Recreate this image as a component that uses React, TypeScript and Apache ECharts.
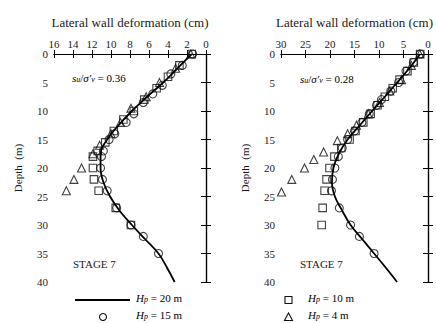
import React, { useEffect, useRef } from "react";
import * as echarts from "echarts";

const FONT = '"Liberation Serif", "Times New Roman", serif';
const INK = "#1a1a1a";

// Axis ranges (lateral deflection in cm, depth in m)
const leftMaxDefl = 16;
const leftDeflStep = 2;
const rightMaxDefl = 30;
const rightDeflStep = 5;
const maxDepth = 40;
const depthStep = 5;

// Left panel (su/σ'v = 0.36): [deflection cm, depth m]
const leftHp20: number[][] = [
  [1.5, 0], [3.0, 2.5], [4.5, 5], [6.2, 7.5], [7.8, 10], [9.2, 12.5], [10.4, 15],
  [11.1, 17.5], [11.1, 20], [10.8, 22.5], [10.1, 25], [9.1, 27.5], [7.8, 30],
  [6.4, 32.5], [5.0, 35], [4.1, 37.5], [3.3, 40],
];
const leftHp15: number[][] = [
  [1.4, 0], [2.5, 2], [3.7, 3.5], [4.6, 5.5], [5.6, 7], [6.6, 8.5], [7.6, 10.5],
  [8.4, 12], [9.6, 14], [10.2, 15], [10.8, 17], [11.0, 18], [11.1, 20],
  [10.9, 22], [10.4, 24], [9.4, 27], [7.9, 30], [6.6, 32], [5.0, 35],
];
const leftHp10: number[][] = [
  [1.5, 0], [2.8, 2], [4.0, 4], [5.2, 6], [6.5, 8], [7.6, 10], [8.7, 11.5],
  [9.7, 13.5], [10.6, 15.5], [11.4, 17], [11.9, 18], [11.9, 20], [11.8, 22],
  [11.3, 24], [9.5, 27], [7.9, 30],
];
const leftHp4: number[][] = [
  [1.6, 0], [3.2, 2.5], [4.9, 5], [6.3, 7.5], [7.9, 9.5], [9.0, 12], [10.0, 14],
  [11.2, 16], [11.9, 17.5], [13.1, 20], [13.9, 22], [14.7, 24],
];

// Right panel (su/σ'v = 0.28)
const rightHp20: number[][] = [
  [1.6, 0], [3.8, 2.5], [6.3, 5], [8.8, 7.5], [11.4, 10], [13.9, 12.5], [16.4, 15],
  [18.2, 17.5], [19.3, 20], [19.6, 22.5], [19.0, 25], [17.5, 27.5], [15.8, 30],
  [13.4, 32.5], [11.0, 35], [8.6, 37.5], [6.3, 40],
];
const rightHp15: number[][] = [
  [1.6, 0], [3.0, 1.5], [4.5, 3], [6.0, 5], [7.6, 6.5], [9.5, 8], [10.5, 9],
  [12.0, 10.5], [13.5, 12], [15.0, 13.5], [16.4, 15], [17.5, 16.5], [18.3, 18],
  [19.0, 20], [19.5, 22], [19.7, 24], [18.1, 27], [15.8, 30], [14.0, 32], [11.0, 35],
];
const rightHp10: number[][] = [
  [1.6, 0], [2.9, 1.5], [4.2, 3], [5.8, 4.5], [7.2, 6], [8.8, 7.5], [10.3, 9],
  [11.7, 10.5], [13.2, 12], [14.8, 13.5], [16.0, 15], [17.7, 16.5], [19.1, 18],
  [20.1, 20], [20.7, 22], [21.1, 24], [21.5, 27], [21.7, 30],
];
const rightHp4: number[][] = [
  [1.7, 0], [3.4, 2], [5.4, 4.5], [7.8, 6.5], [9.9, 8.5], [12.2, 10.5], [14.6, 12.5],
  [16.4, 14], [18.5, 15.2], [21.3, 17.2], [23.3, 18.5], [25.2, 20], [27.8, 22], [29.9, 24.2],
];

const annotationLeft = "0.36";
const annotationRight = "0.28";
const legendLabels = ["20", "15", "10", "4"];

const tickLabel = { fontFamily: FONT, fontSize: 11, color: INK };

function xAxes(grid: number, max: number, step: number) {
  const common = {
    type: "value" as const,
    gridIndex: grid,
    min: 0,
    max,
    interval: step,
    inverse: true,
    splitLine: { show: false },
    axisLine: { lineStyle: { color: "#000", width: 1.2 } },
    axisTick: { inside: true, length: 4, lineStyle: { color: "#000" } },
  };
  return [
    {
      ...common,
      position: "top",
      axisLabel: { ...tickLabel, margin: 5 },
      name: "Lateral wall deformation (cm)",
      nameLocation: "middle",
      nameGap: 25,
      nameTextStyle: { fontFamily: FONT, fontSize: 13, color: INK },
    },
    { ...common, position: "bottom", axisLabel: { show: false } },
  ];
}

function yAxes(grid: number) {
  const common = {
    type: "value" as const,
    gridIndex: grid,
    min: 0,
    max: maxDepth,
    interval: depthStep,
    inverse: true,
    splitLine: { show: false },
    axisLine: { lineStyle: { color: "#000", width: 1.2 } },
    axisTick: { inside: true, length: 5, lineStyle: { color: "#000" } },
  };
  return [
    {
      ...common,
      position: "left",
      axisLabel: { ...tickLabel, margin: 6 },
      name: "Depth  (m)",
      nameLocation: "middle",
      nameRotate: 90,
      nameGap: 31,
      nameTextStyle: { fontFamily: FONT, fontSize: 11, color: INK },
    },
    { ...common, position: "right", axisLabel: { show: false } },
  ];
}

function panelSeries(
  ax: number,
  line: number[][],
  c: number[][],
  s: number[][],
  t: number[][]
) {
  const marker = (data: number[][], symbol: string, size: number) => ({
    type: "scatter",
    xAxisIndex: ax,
    yAxisIndex: ax,
    data,
    symbol,
    symbolSize: size,
    itemStyle: { color: "rgba(255,255,255,0)", borderColor: "#111", borderWidth: 1.1 },
  });
  return [
    {
      type: "line",
      xAxisIndex: ax,
      yAxisIndex: ax,
      data: line,
      smooth: 0.4,
      symbol: "none",
      lineStyle: { color: "#000", width: 1.8 },
    },
    marker(c, "circle", 8),
    marker(s, "rect", 7.5),
    marker(t, "triangle", 8),
  ];
}

const richText = {
  i: { fontFamily: FONT, fontSize: 11, fontStyle: "italic", color: INK, lineHeight: 14, verticalAlign: "bottom" },
  n: { fontFamily: FONT, fontSize: 11, color: INK, lineHeight: 14, verticalAlign: "bottom" },
  sub: { fontFamily: FONT, fontSize: 8, fontStyle: "italic", color: INK, lineHeight: 11, verticalAlign: "bottom" },
};

function ratioText(x: number, y: number, v: string) {
  return {
    type: "text",
    left: x,
    top: y,
    style: {
      text: `{i|s}{sub|u}{n|/}{i|σ′}{sub|v}{n| = ${v}}`,
      rich: richText,
    },
  };
}

function legendText(x: number, y: number, v: string) {
  return {
    type: "text",
    left: x,
    top: y,
    style: {
      text: `{i|H}{sub|p}{n| = ${v} m}`,
      rich: richText,
    },
  };
}

export default function App() {
  const ref = useRef<HTMLDivElement>(null);

  useEffect(() => {
    if (!ref.current) return;
    const chart = echarts.init(ref.current, undefined, { renderer: "svg" });
    const mk = { stroke: "#111", fill: "none", lineWidth: 1.1 };
    chart.setOption({
      animation: false,
      backgroundColor: "#fff",
      grid: [
        { left: 54, top: 54, width: 152, height: 228 },
        { left: 281, top: 54, width: 152, height: 228 },
      ],
      xAxis: [...xAxes(0, leftMaxDefl, leftDeflStep), ...xAxes(1, rightMaxDefl, rightDeflStep)],
      yAxis: [...yAxes(0), ...yAxes(1)],
      series: [
        ...panelSeries(0, leftHp20, leftHp15, leftHp10, leftHp4),
        ...panelSeries(2, rightHp20, rightHp15, rightHp10, rightHp4),
      ],
      graphic: [
        ratioText(72, 72, annotationLeft),
        ratioText(300, 73, annotationRight),
        {
          type: "text",
          left: 73,
          top: 258,
          style: { text: "STAGE 7", font: `11px ${FONT}`, fill: INK },
        },
        {
          type: "text",
          left: 300,
          top: 258,
          style: { text: "STAGE 7", font: `11px ${FONT}`, fill: INK },
        },
        // legend, left column
        {
          type: "line",
          shape: { x1: 75, y1: 300, x2: 130, y2: 300 },
          style: { stroke: "#000", lineWidth: 1.8 },
        },
        legendText(136, 292, legendLabels[0]),
        { type: "circle", shape: { cx: 103, cy: 317, r: 3.5 }, style: mk },
        legendText(136, 309, legendLabels[1]),
        // legend, right column
        { type: "rect", shape: { x: 285, y: 296.5, width: 7, height: 7 }, style: mk },
        legendText(308, 292, legendLabels[2]),
        {
          type: "polygon",
          shape: { points: [[288.5, 313], [292.5, 320.5], [284.5, 320.5]] },
          style: mk,
        },
        legendText(308, 309, legendLabels[3]),
      ],
    });
    return () => chart.dispose();
  }, []);

  return (
    <div
      ref={ref}
      style={{ position: "fixed", left: 0, top: 0, width: 436, height: 323 }}
    />
  );
}
